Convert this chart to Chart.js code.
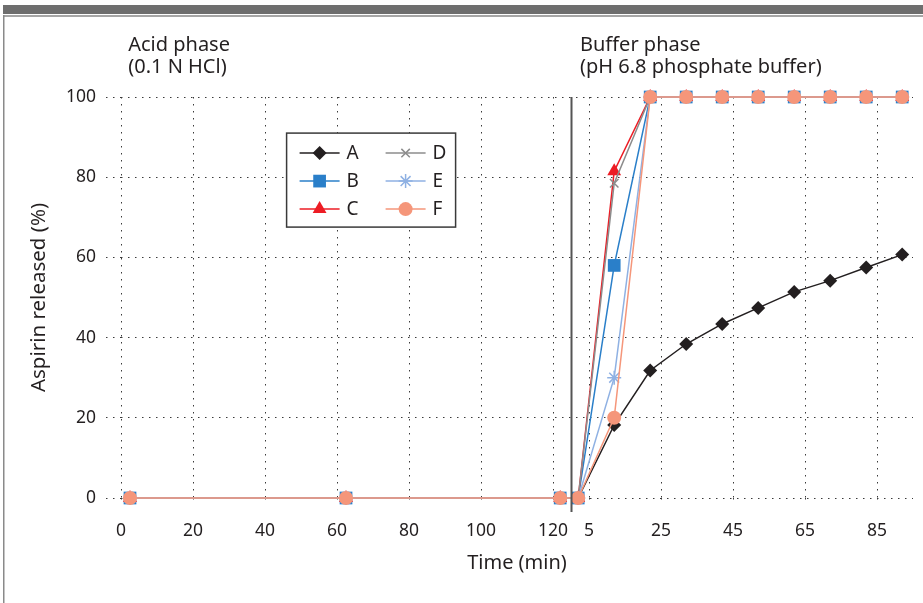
<!DOCTYPE html>
<html>
<head>
<meta charset="utf-8">
<script src="https://cdn.jsdelivr.net/npm/chart.js@4.4.1/dist/chart.umd.min.js"></script>
<style>
  html, body { margin: 0; padding: 0; background: #ffffff; }
  #wrap { width: 923px; height: 603px; position: relative; }
</style>
</head>
<body>
<div id="wrap"><canvas id="c" width="923" height="603"></canvas></div>
<script>
// ---- data ----
const acidTimes = [2.5, 62.5, 122];                 // min, acid phase (as plotted)
const bufferTimes = [2, 12, 22, 32, 42, 52, 62, 72, 82, 92]; // min, buffer phase (as plotted)
const bufferStart = 125;                            // buffer phase origin on the combined axis
const acidTickLabels = [0, 20, 40, 60, 80, 100, 120];
const bufferTickLabels = [5, 25, 45, 65, 85];
const yTicks = [0, 20, 40, 60, 80, 100];

const seriesNames = ['A', 'B', 'C', 'D', 'E', 'F'];
const acidA = [0, 0, 0];
const acidB = [0, 0, 0];
const acidC = [0, 0, 0];
const acidD = [0, 0, 0];
const acidE = [0, 0, 0];
const acidF = [0, 0, 0];
const bufA = [0, 18.2, 31.8, 38.4, 43.4, 47.4, 51.4, 54.2, 57.5, 60.7];
const bufB = [0, 58, 100, 100, 100, 100, 100, 100, 100, 100];
const bufC = [0, 81.5, 100, 100, 100, 100, 100, 100, 100, 100];
const bufD = [0, 78.5, 100, 100, 100, 100, 100, 100, 100, 100];
const bufE = [0, 30, 100, 100, 100, 100, 100, 100, 100, 100];
const bufF = [0, 20, 100, 100, 100, 100, 100, 100, 100, 100];

const acidPhaseText = ['Acid phase', '(0.1 N HCl)'];
const bufferPhaseText = ['Buffer phase', '(pH 6.8 phosphate buffer)'];

// ---- styles ----
const FONT = '"Noto Sans", "Open Sans", sans-serif';
const TXT = '#231f20';
const styles = [
  { color: '#231f20', point: 'rectRot', r: 7 },
  { color: '#2a7fc9', point: 'rect', r: 9 },
  { color: '#ed1c24', point: 'triangle', r: 8 },
  { color: '#8c8c8c', point: 'crossRot', r: 6 },
  { color: '#8fb1e3', point: 'star', r: 7 },
  { color: '#f5967a', point: 'circle', r: 7 }
];

function toPoints(acid, buf) {
  const pts = acid.map((v, i) => ({ x: acidTimes[i], y: v }));
  return pts.concat(buf.map((v, i) => ({ x: bufferStart + bufferTimes[i], y: v })));
}
const allSeries = [[acidA, bufA], [acidB, bufB], [acidC, bufC], [acidD, bufD], [acidE, bufE], [acidF, bufF]];

const datasets = allSeries.map((s, i) => ({
  label: seriesNames[i],
  data: toPoints(s[0], s[1]),
  borderColor: styles[i].color,
  backgroundColor: styles[i].color,
  borderWidth: 1.5,
  pointStyle: styles[i].point,
  pointRadius: styles[i].r,
  pointBorderWidth: (styles[i].point === 'crossRot' || styles[i].point === 'star') ? 1.5 : 0,
  pointBorderColor: styles[i].color,
  pointBackgroundColor: styles[i].color,
  order: 5 - i,
  tension: 0,
  clip: false
}));

const xTickValues = acidTickLabels.concat(bufferTickLabels.map(v => v + bufferStart));

function drawMarker(ctx, style, x, y) {
  const opts = { pointStyle: style.point, radius: style.r, rotation: 0, borderWidth: 1.5 };
  ctx.save();
  ctx.fillStyle = style.color;
  ctx.strokeStyle = style.color;
  ctx.lineWidth = (style.point === 'crossRot' || style.point === 'star') ? 1.5 : 0.01;
  Chart.helpers.drawPoint(ctx, opts, x, y);
  ctx.restore();
}

const decor = {
  id: 'decor',
  beforeDraw(chart) {
    const ctx = chart.ctx;
    ctx.save();
    ctx.fillStyle = '#ffffff';
    ctx.fillRect(0, 0, chart.width, chart.height);
    // frame
    ctx.fillStyle = '#6e6e6e';
    ctx.fillRect(3, 5, chart.width - 3, 9);
    ctx.fillStyle = '#a6a6a6';
    ctx.fillRect(3, 15, chart.width - 3, 2);
    ctx.fillStyle = '#8a8a8a';
    ctx.fillRect(3, 15, 1.5, chart.height - 15);
    ctx.restore();
  },
  afterDatasetsDraw(chart) {
    const ctx = chart.ctx;
    const xs = chart.scales.x, ys = chart.scales.y;
    const area = chart.chartArea;
    // phase separator
    const sx = Math.round(xs.getPixelForValue(bufferStart)) + 0.5;
    ctx.save();
    ctx.strokeStyle = '#555555';
    ctx.lineWidth = 2;
    ctx.beginPath();
    ctx.moveTo(sx, area.top);
    ctx.lineTo(sx, area.bottom + 14);
    ctx.stroke();
    // phase texts
    ctx.fillStyle = TXT;
    ctx.font = '20px ' + FONT;
    ctx.textBaseline = 'middle';
    ctx.textAlign = 'left';
    const ax = xs.getPixelForValue(2);
    const bx = xs.getPixelForValue(bufferStart + 2.5);
    ctx.fillText(acidPhaseText[0], ax, area.top - 52);
    ctx.fillText(acidPhaseText[1], ax, area.top - 30);
    ctx.fillText(bufferPhaseText[0], bx, area.top - 52);
    ctx.fillText(bufferPhaseText[1], bx, area.top - 30);
    // legend box
    const lx = xs.getPixelForValue(46), ly = ys.getPixelForValue(91);
    const lw = 169, lh = 94;
    ctx.strokeStyle = '#3a3a3a';
    ctx.lineWidth = 1.5;
    ctx.fillStyle = '#ffffff';
    ctx.fillRect(lx, ly, lw, lh);
    ctx.strokeRect(lx, ly, lw, lh);
    for (let i = 0; i < 6; i++) {
      const col = Math.floor(i / 3), row = i % 3;
      const x0 = lx + 13 + col * 86;
      const y0 = ly + 20 + row * 28;
      ctx.strokeStyle = styles[i].color;
      ctx.lineWidth = 1.5;
      ctx.beginPath();
      ctx.moveTo(x0, y0);
      ctx.lineTo(x0 + 40, y0);
      ctx.stroke();
      drawMarker(ctx, styles[i], x0 + 20, y0);
      ctx.fillStyle = TXT;
      ctx.font = '19px ' + FONT;
      ctx.textAlign = 'left';
      ctx.textBaseline = 'middle';
      ctx.fillText(seriesNames[i], x0 + 47, y0 + 1);
    }
    ctx.restore();
  }
};

new Chart(document.getElementById('c'), {
  type: 'line',
  data: { datasets },
  options: {
    responsive: false,
    animation: false,
    devicePixelRatio: 1,
    layout: { padding: { top: 97, right: 10, left: 0, bottom: 0 } },
    plugins: { legend: { display: false }, tooltip: { enabled: false } },
    scales: {
      x: {
        type: 'linear',
        min: 0,
        max: 220,
        afterBuildTicks(scale) { scale.ticks = xTickValues.map(v => ({ value: v })); },
        afterFit(scale) { scale.height = 105; },
        ticks: {
          autoSkip: false,
          maxRotation: 0,
          padding: 18,
          color: TXT,
          font: { family: FONT, size: 17.5 },
          callback: v => (v > bufferStart ? v - bufferStart : v)
        },
        grid: {
          color: '#3a3a3a',
          lineWidth: 1,
          tickLength: 5,
          tickColor: '#3a3a3a',
          tickBorderDash: [1.5, 5.5]
        },
        border: { display: false, dash: [1.5, 5.5] },
        title: {
          display: true,
          text: 'Time (min)',
          color: TXT,
          font: { family: FONT, size: 20 },
          padding: { top: 0, bottom: 28 }
        }
      },
      y: {
        min: 0,
        max: 100,
        afterBuildTicks(scale) { scale.ticks = yTicks.map(v => ({ value: v })); },
        afterFit(scale) { scale.width = 121; },
        ticks: {
          padding: 10,
          color: TXT,
          font: { family: FONT, size: 17.5 }
        },
        grid: {
          color: '#3a3a3a',
          lineWidth: 1,
          tickLength: 15,
          tickColor: '#3a3a3a',
          tickBorderDash: [1.5, 5.5]
        },
        border: { display: false, dash: [1.5, 5.5] },
        title: {
          display: true,
          text: 'Aspirin released (%)',
          color: TXT,
          font: { family: FONT, size: 20.5 },
          padding: { top: 27, bottom: 0 }
        }
      }
    }
  },
  plugins: [decor]
});
</script>
</body>
</html>
